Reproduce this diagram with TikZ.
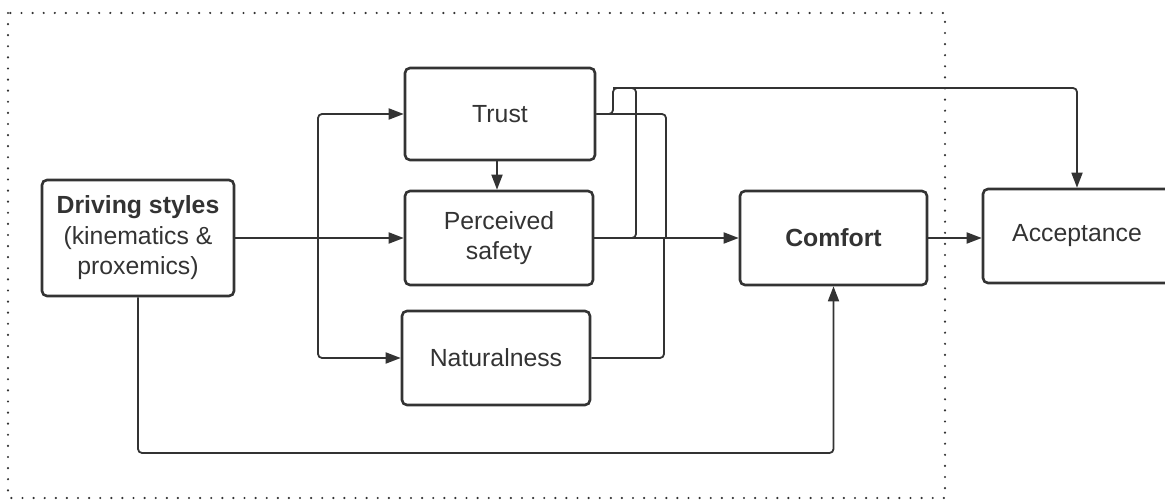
\documentclass[tikz,border=0pt]{standalone}
\usepackage{fontspec}
\setmainfont{Liberation Sans}
\usetikzlibrary{arrows.meta}
\definecolor{ink}{HTML}{333333}
\tikzset{
  box/.style={draw=ink, line width=2.6pt, rounded corners=5pt, align=center, text=ink,
    font=\fontsize{24.8}{30.5}\selectfont, inner sep=0pt},
  conn/.style={draw=ink, line width=1.8pt, rounded corners=4pt},
  arr/.style={conn, -{Triangle[length=15pt,width=11pt]}},
  frame/.style={draw=ink, line width=2.4pt, line cap=round, dash pattern=on 0pt off 11.1pt}
}
\begin{document}
\begin{tikzpicture}[x=1pt,y=-1pt]
\useasboundingbox (0,0) rectangle (1165,502);
\clip (0,0) rectangle (1165,502);
\draw[frame] (8,13) rectangle (945,498);
\node[box, minimum width=192pt, minimum height=116pt] (drive) at (138,238)
  {\textbf{Driving styles}\\(kinematics \&\\proxemics)};
\node[box, minimum width=190pt, minimum height=92pt] (trust) at (500,114) {Trust};
\node[box, minimum width=188pt, minimum height=94pt] (safety) at (499,238) {Perceived\\safety};
\node[box, minimum width=188pt, minimum height=94pt] (natural) at (496,358) {Naturalness};
\node[box, minimum width=187pt, minimum height=94pt] (comfort) at (833.5,238) {\textbf{Comfort}};
\node[box, minimum width=188pt, minimum height=94pt] (accept) at (1077,236) {Acceptance};
\coordinate (j) at (318,238);
\coordinate (tA) at (613,88);
\coordinate (sA) at (636,88);
\coordinate (tC) at (666,238);
\coordinate (nC) at (664,238);
\coordinate (bl) at (138,453);
% driving styles fan-out
\draw[arr] (drive.east) -- (safety.west);
\draw[arr] (j) |- (trust.west);
\draw[arr] (j) |- (natural.west);
% trust -> safety
\draw[arr] (trust.south -| 497,0) -- (safety.north -| 497,0);
% to acceptance
\draw[arr] (trust.east) -| (tA) -| (accept.north);
\draw[conn] (safety.east) -| (sA) -- (tA);
% to comfort
\draw[conn] (trust.east) -| (tC);
\draw[conn] (natural.east) -| (nC);
\draw[arr] (safety.east) -- (comfort.west);
% bottom path
\draw[arr] (drive.south -| bl) -- (bl) -| (comfort.south);
% comfort -> acceptance
\draw[arr] (comfort.east) -- (comfort.east -| accept.west);
\end{tikzpicture}
\end{document}
